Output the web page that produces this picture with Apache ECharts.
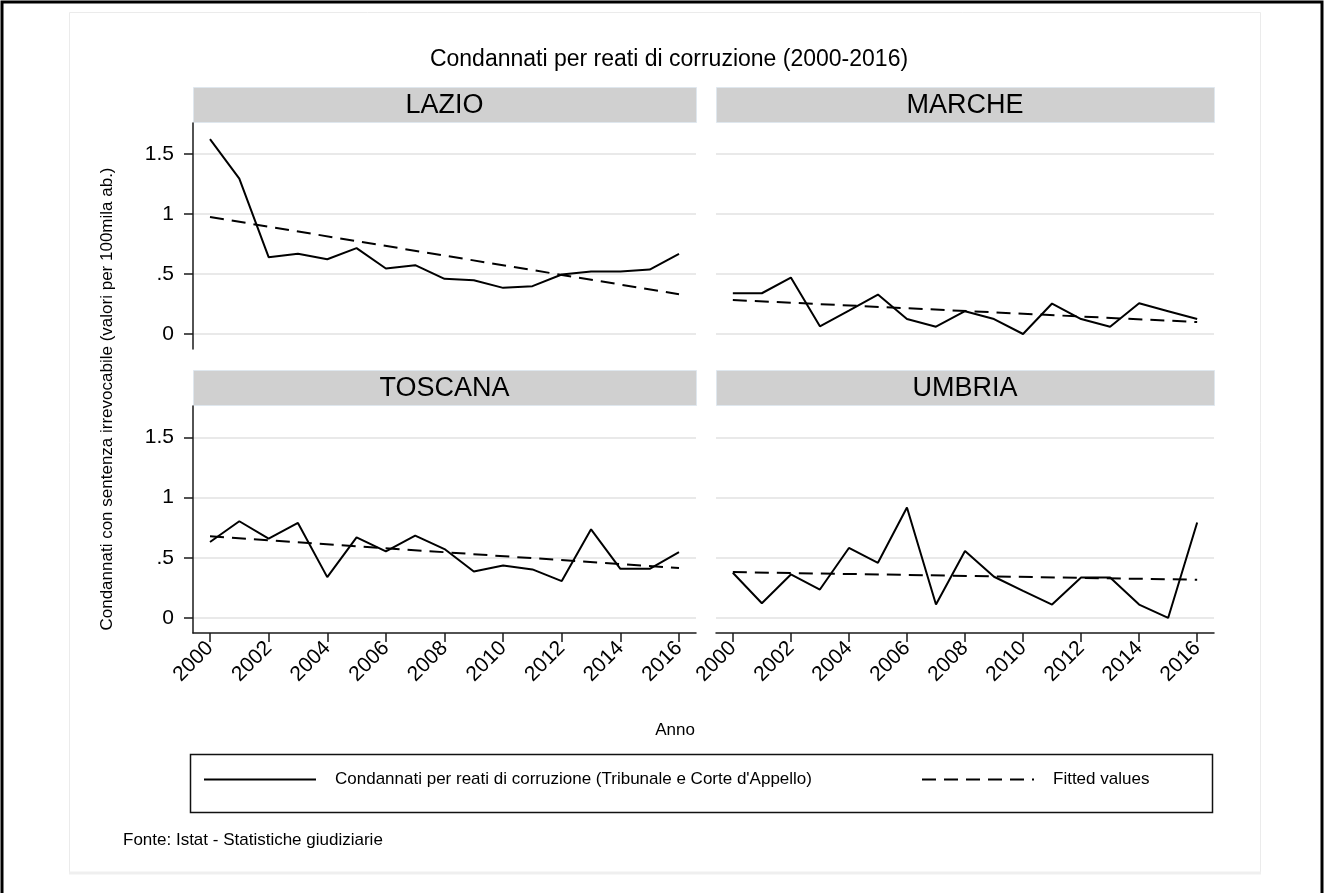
<!DOCTYPE html>
<html>
<head>
<meta charset="utf-8">
<script src="https://cdn.jsdelivr.net/npm/echarts@6.0.0/dist/echarts.min.js"></script>
<style>
  html, body { margin: 0; padding: 0; background: #ffffff; }
  #chart { width: 1324px; height: 893px; }
</style>
</head>
<body>
<div id="chart"></div>
<script>
// Convictions for corruption offences per 100k inhabitants, 2000-2016
const years = [2000, 2001, 2002, 2003, 2004, 2005, 2006, 2007, 2008, 2009, 2010, 2011, 2012, 2013, 2014, 2015, 2016];
const regions = ['LAZIO', 'MARCHE', 'TOSCANA', 'UMBRIA'];

const lazio   = [1.625, 1.296, 0.641, 0.669, 0.624, 0.716, 0.546, 0.574, 0.460, 0.449, 0.385, 0.399, 0.496, 0.521, 0.521, 0.538, 0.669];
const marche  = [0.340, 0.340, 0.471, 0.064, 0.195, 0.329, 0.125, 0.061, 0.190, 0.125, 0.000, 0.254, 0.125, 0.061, 0.256, 0.190, 0.125];
const toscana = [0.631, 0.803, 0.658, 0.789, 0.339, 0.669, 0.553, 0.683, 0.572, 0.386, 0.436, 0.403, 0.306, 0.736, 0.408, 0.408, 0.547];
const umbria  = [0.375, 0.122, 0.361, 0.236, 0.581, 0.458, 0.917, 0.111, 0.556, 0.342, 0.225, 0.111, 0.336, 0.336, 0.111, 0.000, 0.792];

// Linear trend (fitted values) at the ends of the period
const fitYears   = [2000, 2016];
const lazioFit   = [0.976, 0.332];
const marcheFit  = [0.284, 0.100];
const toscanaFit = [0.678, 0.414];
const umbriaFit  = [0.381, 0.317];

const yTicks = [0, 0.5, 1, 1.5];
const yTickLabels = ['0', '.5', '1', '1.5'];
const xTicks = [2000, 2002, 2004, 2006, 2008, 2010, 2012, 2014, 2016];
const xTickLabels = ['2000', '2002', '2004', '2006', '2008', '2010', '2012', '2014', '2016'];

const seriesNames = ["Condannati per reati di corruzione (Tribunale e Corte d'Appello)", 'Fitted values'];

const values = [lazio, marche, toscana, umbria];
const fits = [lazioFit, marcheFit, toscanaFit, umbriaFit];

const FONT = '"Liberation Sans", Arial, Helvetica, sans-serif';
const INK = '#000000';

// panel layout
const panels = [
  { left: 193, top: 123, width: 503, height: 226 },
  { left: 716, top: 123, width: 498, height: 226 },
  { left: 193, top: 406, width: 503, height: 227 },
  { left: 716, top: 406, width: 498, height: 227 }
];
const STRIP_H = 35;

const chart = echarts.init(document.getElementById('chart'), null, { renderer: 'canvas' });

const grids = panels.map(p => ({ left: p.left, top: p.top, width: p.width, height: p.height, containLabel: false }));

const xAxes = panels.map((p, i) => {
  const bottomRow = i >= 2;
  return {
    type: 'value',
    gridIndex: i,
    min: 1999.42,
    max: 2016.58,
    show: bottomRow,
    axisLine: { show: bottomRow, onZero: false, lineStyle: { color: '#1a1a1a', width: 1.5 } },
    axisTick: { show: bottomRow, length: 9, customValues: xTicks, lineStyle: { color: '#1a1a1a', width: 1.5 } },
    axisLabel: {
      show: bottomRow,
      customValues: xTicks,
      rotate: 45,
      margin: 12,
      fontSize: 21,
      fontFamily: FONT,
      color: INK,
      formatter: v => xTickLabels[xTicks.indexOf(v)]
    },
    splitLine: { show: false }
  };
});

const yAxes = panels.map((p, i) => {
  const leftCol = i % 2 === 0;
  return {
    type: 'value',
    gridIndex: i,
    min: -0.125,
    max: 1.76,
    axisLine: { show: leftCol, onZero: false, lineStyle: { color: '#1a1a1a', width: 1.5 } },
    axisTick: { show: leftCol, length: 9, customValues: yTicks, lineStyle: { color: '#1a1a1a', width: 1.5 } },
    axisLabel: {
      show: leftCol,
      customValues: yTicks,
      margin: 19,
      fontSize: 21,
      fontFamily: FONT,
      color: INK,
      formatter: v => yTickLabels[yTicks.indexOf(v)]
    },
    splitLine: { show: true, lineStyle: { color: '#e9e9e9', width: 2 } }
  };
});

const series = [];
values.forEach((vals, i) => {
  series.push({
    name: seriesNames[0],
    type: 'line',
    xAxisIndex: i,
    yAxisIndex: i,
    symbol: 'none',
    lineStyle: { color: INK, width: 2 },
    itemStyle: { color: INK },
    data: years.map((y, k) => [y, vals[k]]),
    z: 3
  });
  series.push({
    name: seriesNames[1],
    type: 'line',
    xAxisIndex: i,
    yAxisIndex: i,
    symbol: 'none',
    lineStyle: { color: INK, width: 2, type: [14, 8] },
    itemStyle: { color: INK },
    data: fitYears.map((y, k) => [y, fits[i][k]]),
    z: 3
  });
});

function label(text, x, y, size, align, opts) {
  const a = align || 'center';
  return Object.assign({
    type: 'text',
    x: x, y: y,
    silent: true,
    style: {
      text: text,
      fill: INK,
      fontSize: size,
      fontFamily: FONT,
      align: a, verticalAlign: 'middle',
      textAlign: a, textVerticalAlign: 'middle'
    }
  }, opts || {});
}

const graphics = [
  // outer frame
  { type: 'rect', silent: true, z: -20, shape: { x: 2, y: 2, width: 1320, height: 940 },
    style: { fill: 'none', stroke: '#000', lineWidth: 3 } },
  // inner page
  { type: 'rect', silent: true, z: -20, shape: { x: 69.5, y: 12.5, width: 1191, height: 860 },
    style: { fill: '#ffffff', stroke: '#ebebeb', lineWidth: 1 } },
  { type: 'line', silent: true, z: -19, shape: { x1: 69, y1: 873, x2: 1261, y2: 873 },
    style: { stroke: '#efefef', lineWidth: 3 } },
  label('Condannati per reati di corruzione (2000-2016)', 669, 60, 23),
  label('Condannati con sentenza irrevocabile (valori per 100mila ab.)', 107, 399, 17, 'center', { rotation: Math.PI / 2 }),
  label('Anno', 675, 730, 17),
  // legend frame
  { type: 'rect', silent: true, shape: { x: 190.5, y: 754.5, width: 1022, height: 58 },
    style: { fill: 'none', stroke: '#111', lineWidth: 1.5 } },
  label('Fonte: Istat - Statistiche giudiziarie', 123, 840, 17, 'left')
];

// panel header strips
panels.forEach((p, i) => {
  graphics.push({
    type: 'rect', silent: true,
    shape: { x: p.left + 0.5, y: p.top - STRIP_H - 0.5, width: p.width, height: STRIP_H },
    style: { fill: '#d0d0d0', stroke: '#dfe7ee', lineWidth: 1 }
  });
  graphics.push(label(regions[i], p.left + p.width / 2, p.top - STRIP_H / 2, 27));
});

const legendText = { fontSize: 17, fontFamily: FONT, color: INK, padding: [0, 0, 0, 14] };
const legendBase = {
  top: 771, itemWidth: 112, itemHeight: 20, padding: 0, selectedMode: false,
  itemStyle: { opacity: 0 },
  textStyle: legendText
};

chart.setOption({
  animation: false,
  backgroundColor: '#ffffff',
  grid: grids,
  xAxis: xAxes,
  yAxis: yAxes,
  series: series,
  legend: [
    Object.assign({ data: [seriesNames[0]], left: 203 }, legendBase),
    Object.assign({ data: [seriesNames[1]], left: 921 }, legendBase)
  ],
  graphic: graphics
});
</script>
</body>
</html>
